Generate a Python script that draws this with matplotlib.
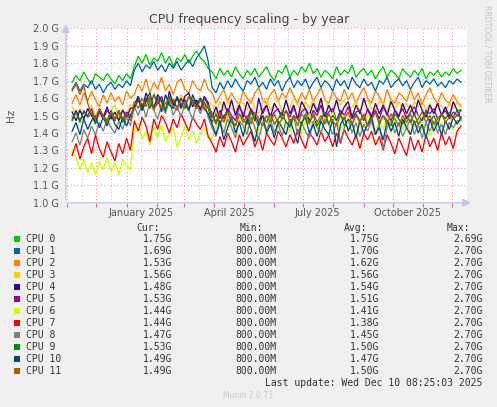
import numpy as np
import matplotlib
matplotlib.use("Agg")
import matplotlib.pyplot as plt
import matplotlib.dates as mdates
from datetime import datetime

# ---- data (values in units of 0.01 GHz, one sample per ~4 days) ----
labels = ["CPU 0", "CPU 1", "CPU 2", "CPU 3", "CPU 4", "CPU 5",
          "CPU 6", "CPU 7", "CPU 8", "CPU 9", "CPU 10", "CPU 11"]
colors = ["#00CC00", "#0066B3", "#FF8000", "#FFCC00", "#330099", "#990099",
          "#CCFF00", "#FF0000", "#808080", "#008F00", "#00487D", "#B35A00"]

cpu0 = [169,173,170,175,171,168,174,172,170,174, 171,168,173,170,174,171,
        178,184,180,185,179,183,181,186,180,184, 178,183,181,185,180,184,187,183,181,177,
        175,171,177,173,176,172,178,174,171,176, 173,177,172,175,178,173,170,176,174,179,
        172,176,173,178,175,180,174,177,172,176, 174,171,178,173,176,174,179,172,175,177,
        173,176,171,175,178,172,176,174,171,177, 174,172,176,173,177,171,175,173,176,172,
        175,173,177,174,176]
cpu1 = [165,169,164,168,166,170,165,168,163,167, 169,165,168,166,170,167,
        176,180,175,179,177,181,176,179,175,180, 177,181,176,179,182,178,183,186,190,181,
        166,163,169,165,170,166,171,167,164,170, 168,172,166,169,165,171,167,170,164,169,
        172,166,170,167,171,165,169,172,166,170, 168,164,171,167,170,165,172,168,166,171,
        167,169,164,170,168,172,166,169,171,167, 170,165,169,172,166,170,168,171,167,169,
        166,170,168,171,169]
cpu2 = [157,162,156,163,158,164,159,155,162,157, 163,158,161,156,164,160,
        162,168,164,171,163,169,165,172,164,168, 162,169,171,165,163,170,166,164,171,165,
        163,157,161,165,158,163,159,156,164,160, 157,163,166,159,157,162,165,158,163,160,
        166,161,157,163,159,165,158,162,166,159, 157,164,160,158,165,159,163,157,162,166,
        160,157,164,161,156,165,159,157,163,161, 158,165,159,163,156,162,166,160,157,163,
        159,157,162,158,155]
cpu3 = [155,150,154,148,153,156,149,154,150,147, 153,156,149,154,150,156,
        156,161,155,160,154,163,158,155,161,156, 160,154,162,158,155,161,156,160,154,158,
        156,151,158,153,159,154,152,158,157,153, 159,154,151,158,160,153,157,159,152,158,
        154,160,156,152,158,154,159,153,157,160, 154,152,158,156,159,153,155,158,152,157,
        159,154,153,158,157,152,159,154,158,153, 157,152,158,155,159,153,157,151,158,155,
        152,157,154,158,156]
cpu4 = [152,147,153,148,154,150,146,153,149,155, 148,152,147,153,149,154,
        155,161,153,163,157,154,162,158,152,164, 156,160,154,161,163,155,159,153,161,157,
        149,155,148,158,151,159,150,156,149,158, 153,147,160,151,156,149,157,153,150,159,
        151,156,148,158,154,150,157,152,160,149, 156,151,159,150,155,158,149,156,151,160,
        153,149,157,151,156,150,158,153,149,157, 151,156,150,159,153,149,156,151,157,150,
        155,149,158,153,148]
cpu5 = [148,153,147,152,150,154,146,152,148,153, 150,147,153,148,152,150,
        154,159,153,158,160,154,157,161,153,158, 159,154,160,156,153,159,157,154,160,156,
        151,146,153,148,154,150,147,155,151,148, 154,150,146,153,156,148,152,154,147,153,
        149,155,148,152,154,147,153,150,156,148, 152,154,147,153,150,155,148,152,153,147,
        154,150,153,148,155,151,147,153,150,154, 148,152,155,150,147,153,151,154,148,150,
        153,148,152,150,153]
cpu6 = [130,126,119,125,117,123,116,124,119,126, 118,123,116,125,121,119,
        142,146,136,141,133,144,137,145,135,140, 143,132,138,144,136,141,134,140,143,137,
        137,144,148,140,150,144,138,149,146,141, 151,144,139,147,142,150,146,140,148,143,
        141,150,146,139,147,151,142,146,140,149, 144,152,146,141,150,142,146,139,148,143,
        151,145,141,147,142,149,140,146,148,142, 147,139,144,150,141,146,138,143,148,144,
        140,146,142,147,144]
cpu7 = [127,134,125,132,137,128,139,131,126,135, 129,124,134,128,137,130,
        147,141,149,144,135,148,142,150,146,140, 148,143,151,146,141,149,145,142,148,138,
        134,129,138,132,140,135,129,139,133,137, 141,132,138,130,140,136,133,141,137,132,
        139,134,142,136,131,140,137,133,141,135, 139,132,140,134,142,137,133,139,131,140,
        136,141,133,138,130,139,134,128,137,132, 127,138,130,136,129,139,132,137,130,140,
        133,138,131,141,144]
cpu8 = [135,140,133,142,137,144,139,146,141,148, 143,140,147,142,149,144,
        155,150,157,149,158,153,148,156,151,159, 150,155,149,157,153,148,156,151,158,149,
        143,138,146,140,148,143,137,147,144,139, 149,143,136,146,141,148,140,145,138,147,
        143,149,139,146,141,137,147,143,140,148, 145,139,146,135,143,148,140,146,138,145,
        141,147,139,145,131,143,147,140,146,138, 143,148,139,145,137,146,141,147,140,145,
        139,146,143,147,147]
cpu9 = [147,152,146,153,149,151,145,154,150,147, 153,148,152,146,151,149,
        156,161,155,160,154,162,157,159,153,161, 155,160,157,154,161,158,155,160,157,154,
        146,151,145,150,152,146,144,151,148,145, 152,148,144,150,146,151,145,148,152,146,
        144,150,148,145,151,146,150,144,148,152, 145,150,147,151,144,148,145,151,147,150,
        144,148,152,145,150,147,144,151,148,145, 150,146,151,145,148,152,146,150,145,151,
        148,152,149,153,153]
cpu10 = [141,146,139,148,142,147,150,143,149,144, 151,145,142,149,144,150,
         155,161,153,159,163,154,160,152,162,156, 154,161,155,159,153,162,156,160,154,151,
         145,139,147,136,143,149,140,146,138,148, 142,135,146,150,140,145,137,147,143,139,
         148,141,134,146,149,140,145,138,147,142, 139,148,132,145,149,141,146,137,147,140,
         145,150,139,143,136,147,141,146,138,148, 143,139,147,140,145,137,148,141,146,139,
         147,142,149,145,149]
cpu11 = [164,168,162,167,157,151,148,154,149,146, 152,147,153,148,151,147,
         158,154,160,155,161,153,159,154,157,160, 155,153,159,156,161,157,154,159,153,156,
         150,145,151,146,152,148,144,151,146,150, 145,152,148,144,150,146,151,145,148,153,
         146,150,144,151,148,145,152,146,150,145, 151,147,144,150,148,152,145,150,146,151,
         144,148,152,146,150,145,151,148,144,150, 146,151,145,148,152,146,150,145,148,151,
         146,149,148,150,149]
series = [cpu0, cpu1, cpu2, cpu3, cpu4, cpu5, cpu6, cpu7, cpu8, cpu9, cpu10, cpu11]

cur = ["1.75G", "1.69G", "1.53G", "1.56G", "1.48G", "1.53G",
       "1.44G", "1.44G", "1.47G", "1.53G", "1.49G", "1.49G"]
mins = ["800.00M"] * 12
avg = ["1.75G", "1.70G", "1.62G", "1.56G", "1.54G", "1.51G",
       "1.41G", "1.38G", "1.45G", "1.50G", "1.47G", "1.50G"]
mx = ["2.69G", "2.70G", "2.70G", "2.70G", "2.70G", "2.70G",
      "2.70G", "2.70G", "2.70G", "2.70G", "2.70G", "2.70G"]

ytick_vals = [1.0, 1.1, 1.2, 1.3, 1.4, 1.5, 1.6, 1.7, 1.8, 1.9, 2.0]
ytick_labels = ["1.0 G", "1.1 G", "1.2 G", "1.3 G", "1.4 G", "1.5 G",
                "1.6 G", "1.7 G", "1.8 G", "1.9 G", "2.0 G"]
xlabel_dates = [datetime(2025, 1, 16), datetime(2025, 4, 16),
                datetime(2025, 7, 16), datetime(2025, 10, 16)]
xlabel_text = ["January 2025", "April 2025", "July 2025", "October 2025"]

view_start = datetime(2024, 11, 6, 6, 0)
view_end = datetime(2025, 12, 10, 8, 25)
data_start = datetime(2024, 11, 6, 6, 0)
data_end = datetime(2025, 12, 9, 20, 0)

# ---- figure ----
W, H = 497, 407
fig = plt.figure(figsize=(W / 100, H / 100), dpi=100, facecolor="#F0F0F0")
ax = fig.add_axes([67 / W, (H - 202.7) / H, 400 / W, 174.4 / H])
ax.set_facecolor("white")

d0 = mdates.date2num(data_start)
d1 = mdates.date2num(data_end)
for s, c in zip(series, colors):
    xs = np.linspace(d0, d1, len(s))
    ax.plot(xs, np.array(s) / 100.0, color=c, lw=0.95, solid_joinstyle="miter")

ax.set_xlim(mdates.date2num(view_start), mdates.date2num(view_end))
ax.set_ylim(1.0, 2.0)

# month starts (major), mid-month (minor)
majors = []
minors = []
y, m = 2024, 11
while (y, m) <= (2025, 12):
    majors.append(mdates.date2num(datetime(y, m, 1)))
    minors.append(mdates.date2num(datetime(y, m, 16)))
    m += 1
    if m > 12:
        m = 1
        y += 1
ax.set_xticks(majors)
ax.set_xticklabels([])
ax.set_xticks(minors, minor=True)
lab_nums = [mdates.date2num(d) for d in xlabel_dates]
minor_labels = []
for v in minors:
    lbl = ""
    for ln, lt in zip(lab_nums, xlabel_text):
        if abs(ln - v) < 0.5:
            lbl = lt
    minor_labels.append(lbl)
ax.set_xticklabels(minor_labels, minor=True)
ax.tick_params(axis="x", which="major", length=3, width=0.8, color="#e07070", direction="out")
ax.tick_params(axis="x", which="minor", length=0, pad=4, labelsize=7, labelcolor="#555555")
ax.set_yticks(ytick_vals)
ax.set_yticklabels(ytick_labels)
ax.tick_params(axis="y", length=0, pad=6, labelsize=7, labelcolor="#555555")

ax.grid(which="major", axis="x", color="#f0a0a0", linestyle=(0, (1, 2)), lw=0.8)
ax.grid(which="minor", axis="x", color="#c8c8c8", linestyle=(0, (1, 2)), lw=0.8)
ax.grid(which="major", axis="y", color="#f0a0a0", linestyle=(0, (1, 2)), lw=0.8)
ax.set_axisbelow(True)
for sp in ax.spines.values():
    sp.set_visible(False)

# axis lines with arrows
axc = "#c4c4ec"
ax.annotate("", xy=(1.017, 0), xytext=(-0.003, 0), xycoords="axes fraction",
            arrowprops=dict(arrowstyle="-|>,head_length=0.5,head_width=0.25", color=axc, lw=0.9),
            annotation_clip=False)
ax.annotate("", xy=(-0.003, 1.04), xytext=(-0.003, 0), xycoords="axes fraction",
            arrowprops=dict(arrowstyle="-|>,head_length=0.5,head_width=0.25", color=axc, lw=0.9),
            annotation_clip=False)

ax.set_ylabel("Hz", fontsize=7.5, color="#555555", labelpad=12)

def fx(px):
    return px / W

def fy(py):
    return 1 - py / H

fig.text(fx(248.7), fy(19), "CPU frequency scaling - by year", ha="center", va="center",
         fontsize=9, color="#444444")
fig.text(fx(487), fy(5), "RRDTOOL / TOBI OETIKER", ha="center", va="top", rotation=270,
         fontsize=5.5, color="#c0c0c0")

mono = "DejaVu Sans Mono"
tc = "#333333"
fs = 7
fig.text(fx(159.5), fy(228.3), "Cur:", ha="right", va="center", family=mono, fontsize=fs, color=tc)
fig.text(fx(263.5), fy(228.3), "Min:", ha="right", va="center", family=mono, fontsize=fs, color=tc)
fig.text(fx(367), fy(228.3), "Avg:", ha="right", va="center", family=mono, fontsize=fs, color=tc)
fig.text(fx(470.3), fy(228.3), "Max:", ha="right", va="center", family=mono, fontsize=fs, color=tc)

for k in range(len(labels)):
    yy = 239.3 + 12 * k
    fig.patches.append(plt.Rectangle((fx(14), fy(yy + 3)), 6 / W, 6 / H,
                                     transform=fig.transFigure, color=colors[k], lw=0))
    fig.text(fx(26.5), fy(yy), labels[k], ha="left", va="center", family=mono, fontsize=fs, color=tc)
    fig.text(fx(172), fy(yy), cur[k], ha="right", va="center", family=mono, fontsize=fs, color=tc)
    fig.text(fx(276.3), fy(yy), mins[k], ha="right", va="center", family=mono, fontsize=fs, color=tc)
    fig.text(fx(379), fy(yy), avg[k], ha="right", va="center", family=mono, fontsize=fs, color=tc)
    fig.text(fx(482.5), fy(yy), mx[k], ha="right", va="center", family=mono, fontsize=fs, color=tc)

fig.text(fx(482.5), fy(383.3), "Last update: Wed Dec 10 08:25:03 2025", ha="right", va="center",
         family=mono, fontsize=fs, color=tc)
fig.text(fx(248), fy(396), "Munin 2.0.73", ha="center", va="center", fontsize=5.5, color="#c8c8c8")

fig.savefig("out.png", dpi=100, facecolor=fig.get_facecolor())
